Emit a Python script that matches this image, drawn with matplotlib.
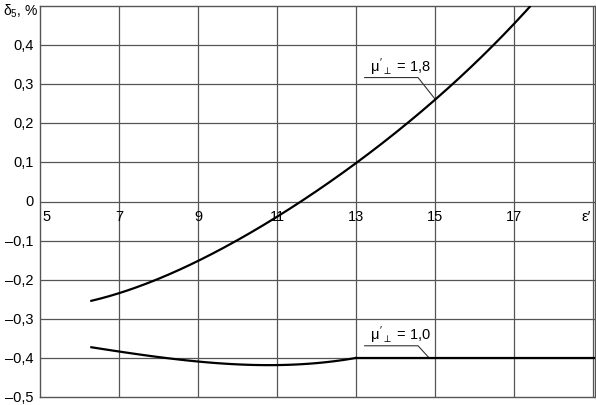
import matplotlib
matplotlib.use("Agg")
import matplotlib.pyplot as plt
import numpy as np

plt.rcParams["font.family"] = ["Liberation Sans", "DejaVu Sans"]
plt.rcParams["mathtext.fontset"] = "custom"
plt.rcParams["mathtext.rm"] = "Liberation Sans"
plt.rcParams["mathtext.it"] = "Liberation Sans"

# curve mu = 1.8
eps_18 = [6.3, 7, 8, 9, 10, 11, 11.58, 13, 15, 15.43, 16.52, 17.4]
delta_18 = [-0.255, -0.233, -0.198, -0.151, -0.10, -0.041, 0.0, 0.098, 0.262, 0.30, 0.40, 0.50]

# curve mu = 1.0
eps_10 = [6.3, 7, 8, 9, 10, 10.5, 11, 12, 13, 15, 17, 19]
delta_10 = [-0.372, -0.385, -0.398, -0.408, -0.416, -0.419, -0.419, -0.413, -0.40, -0.40, -0.40, -0.40]

x_ticks = [5, 7, 9, 11, 13, 15, 17]
y_ticks = [-0.5, -0.4, -0.3, -0.2, -0.1, 0, 0.1, 0.2, 0.3, 0.4]

FS = 10.5
GRID = "#555555"

fig = plt.figure(figsize=(5.96, 4.06), dpi=100)
ax = fig.add_axes([40 / 596, 8 / 406, 555 / 596, 391 / 406])
ax.set_xlim(5, 19.05)
ax.set_ylim(-0.5, 0.5)

for x in range(7, 20, 2):
    ax.axvline(x, color=GRID, lw=0.9, zorder=1)
for y in np.arange(-0.4, 0.45, 0.1):
    ax.axhline(y, color=GRID, lw=0.9, zorder=1)
for s in ax.spines.values():
    s.set_color(GRID)
    s.set_linewidth(1.0)

# mu = 1.8
c18 = np.polyfit(eps_18, delta_18, 4)
xs = np.linspace(eps_18[0], eps_18[-1], 200)
ax.plot(xs, np.polyval(c18, xs), color="black", lw=1.6, zorder=3)

# mu = 1.0: curved part then flat
n_curve = 9
c10 = np.polyfit(eps_10[:n_curve], delta_10[:n_curve], 3)
x1 = np.linspace(eps_10[0], eps_10[n_curve - 1], 100)
ax.plot(x1, np.polyval(c10, x1), color="black", lw=1.6, zorder=3)
ax.plot(eps_10[n_curve - 1:] + [19.05], delta_10[n_curve - 1:] + [delta_10[-1]],
        color="black", lw=1.6, zorder=3)

ax.set_xticks([])
ax.set_yticks([])

for x in x_ticks:
    ha = "left" if x == 5 else "center"
    xpos = 5.05 if x == 5 else x
    ax.text(xpos, -0.02, str(x), ha=ha, va="top", fontsize=FS)
ax.text(18.95, -0.02, "ε′", ha="right", va="top", fontsize=FS)

for y in y_ticks:
    lab = f"{abs(y):.1f}".replace(".", ",")
    if y == 0:
        lab = "0"
    elif y < 0:
        lab = "–" + lab
    ax.text(-0.012, y, lab, transform=ax.get_yaxis_transform(), ha="right",
            va="center", fontsize=FS)
fig.text(3 / 596, 1 - 3 / 406, "δ$_5$, %", ha="left", va="top", fontsize=10)

# labels with leader lines
ax.plot([13.22, 14.57, 15.0], [0.317, 0.317, 0.262], color="#333333", lw=0.8, zorder=2)
ax.text(13.35, 0.333, "$\\mu'_{\\perp}$ = 1,8", ha="left", va="baseline", fontsize=FS)

ax.plot([13.22, 14.57, 14.85], [-0.369, -0.369, -0.40], color="#333333", lw=0.8, zorder=2)
ax.text(13.35, -0.352, "$\\mu'_{\\perp}$ = 1,0", ha="left", va="baseline", fontsize=FS)

fig.savefig("out.png", dpi=100)
